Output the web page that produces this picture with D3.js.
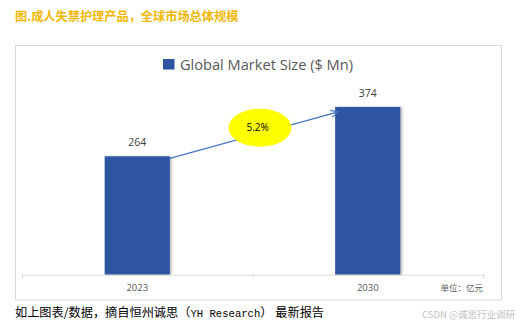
<!DOCTYPE html>
<html><head><meta charset="utf-8">
<script src="https://cdn.jsdelivr.net/npm/d3@7"></script>
<style>html,body{margin:0;padding:0;background:#fff;}svg{display:block;}</style>
</head><body>
<script>
const categories = ["2023", "2030"];
const values = [264, 374];
const cagrLabel = "5.2%";
const legendLabel = "Global Market Size ($ Mn)";
const pageTitle = "图.成人失禁护理产品，全球市场总体规模";
const unitLabel = "单位：亿元";
const footerPre = "如上图表/数据，摘自恒州诚思（";
const footerLatin = "YH Research";
const footerPost = "） 最新报告";
const watermark = "CSDN @诚思行业调研";

const W = 528, H = 328;
const svg = d3.select("body").append("svg").attr("width", W).attr("height", H);
const defs = svg.append("defs");
const sh = defs.append("filter").attr("id","sh").attr("x","-10%").attr("y","-10%").attr("width","130%").attr("height","120%");
sh.append("feDropShadow").attr("dx",2).attr("dy",0).attr("stdDeviation",1.2).attr("flood-color","#000").attr("flood-opacity",0.25);
defs.append("marker").attr("id","arr").attr("viewBox","0 0 10 10").attr("refX",9).attr("refY",5)
  .attr("markerWidth",9).attr("markerHeight",9).attr("markerUnits","userSpaceOnUse").attr("orient","auto")
  .append("path").attr("d","M1,1 L9,5 L1,9").attr("fill","none").attr("stroke","#4472C4").attr("stroke-width",1.3);

// page title
svg.append("text").attr("x",15).attr("y",21).attr("fill","#F2B705")
  .attr("font-family","'Noto Sans CJK SC'").attr("font-weight","bold").attr("font-size",12.2).text(pageTitle);

// frame
svg.append("rect").attr("x",15.5).attr("y",45.5).attr("width",486).attr("height",254.5)
  .attr("fill","#fff").attr("stroke","#d9d9d9").attr("stroke-width",1);

// legend
svg.append("rect").attr("x",163).attr("y",59).attr("width",11.5).attr("height",10.5).attr("fill","#2E54A1");
svg.append("text").attr("x",180).attr("y",70).attr("fill","#595959")
  .attr("font-family","'Open Sans', 'Liberation Sans', sans-serif").attr("font-size",14.6).text(legendLabel);

const x = d3.scaleBand().domain(categories).range([22, 483]).padding(0);
const y = d3.scaleLinear().domain([0, 400]).range([274.7, 95.3]);
const barW = x.bandwidth() * 0.283;

const g = svg.append("g");
g.selectAll("rect.bar").data(values).enter().append("rect").attr("class","bar")
  .attr("x",(d,i)=>x(categories[i]) + x.bandwidth()/2 - barW/2)
  .attr("y",d=>y(d)).attr("width",barW).attr("height",d=>y(0)-y(d))
  .attr("fill","#2E54A1").attr("filter","url(#sh)");

g.selectAll("text.val").data(values).enter().append("text").attr("class","val")
  .attr("x",(d,i)=>x(categories[i]) + x.bandwidth()/2)
  .attr("y",d=>y(d)-10).attr("text-anchor","middle").attr("fill","#404040")
  .attr("font-family","'Open Sans', 'Liberation Sans', sans-serif").attr("font-size",10.5).text(d=>d);

// axis
const axis = d3.axisBottom(x).tickSize(4).tickSizeOuter(4).tickFormat(()=>"");
const ag = svg.append("g").attr("transform",`translate(0,${y(0)})`).call(axis);
ag.select(".domain").attr("stroke","#d9d9d9");
ag.selectAll(".tick").remove();
const bounds = [x.range()[0], x(categories[1]), x.range()[1]];
ag.selectAll("line.bt").data(bounds).enter().append("line").attr("class","bt")
  .attr("x1",d=>d+0.5).attr("x2",d=>d+0.5).attr("y1",0).attr("y2",4).attr("stroke","#d9d9d9");
ag.selectAll("text.cat").data(categories).enter().append("text").attr("class","cat")
  .attr("x",d=>x(d)+x.bandwidth()/2).attr("y",16.5).attr("text-anchor","middle")
  .attr("fill","#595959").attr("font-family","'Open Sans', 'Liberation Sans', sans-serif").attr("font-size",9.5).text(d=>d);

svg.append("text").attr("x",483).attr("y",291).attr("text-anchor","end").attr("fill","#595959")
  .attr("font-family","'Noto Sans CJK SC'").attr("font-size",8.5).text(unitLabel);

// arrow
const x0 = x(categories[0]) + x.bandwidth()/2 + barW/2;
const x1 = x(categories[1]) + x.bandwidth()/2 - barW/2;
svg.append("line").attr("x1",x0).attr("y1",y(values[0])+2).attr("x2",x1+3).attr("y2",y(values[1])+5)
  .attr("stroke","#4472C4").attr("stroke-width",1.3).attr("marker-end","url(#arr)");

const ex = 260, ey = 127.7;
svg.append("ellipse").attr("cx",ex).attr("cy",ey).attr("rx",31.5).attr("ry",19).attr("fill","#FFFF00");
svg.append("text").attr("x",ex-2.3).attr("y",ey+3.5).attr("text-anchor","middle").attr("fill","#000")
  .attr("font-family","'Open Sans', 'Liberation Sans', sans-serif").attr("font-size",10).text(cagrLabel);

// footer
const ft = svg.append("text").attr("x",15).attr("y",317).attr("fill","#000")
  .attr("font-family","'Noto Sans CJK SC'").attr("font-size",12.2);
ft.append("tspan").text(footerPre);
ft.append("tspan").attr("font-family","'Liberation Mono', monospace").attr("font-size",10.6).text(footerLatin);
ft.append("tspan").text(footerPost);

svg.append("text").attr("x",515).attr("y",318).attr("text-anchor","end").attr("fill","#c0c0c0")
  .attr("font-family","'Noto Sans CJK SC'").attr("font-size",9.5).text(watermark);
</script>
</body></html>
